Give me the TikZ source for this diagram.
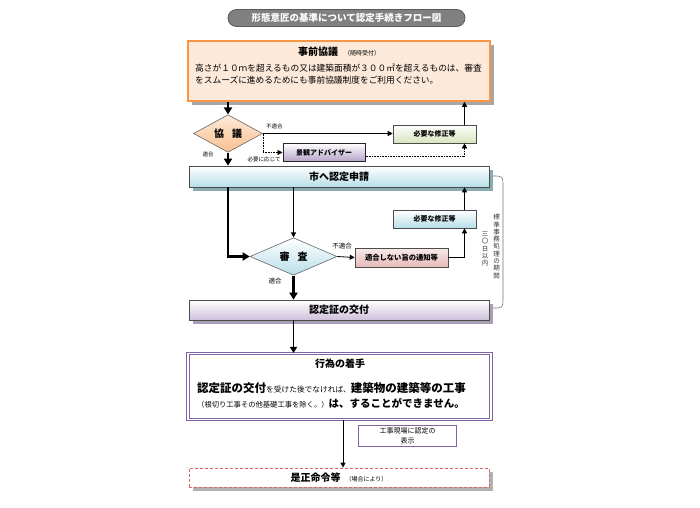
\documentclass[tikz,border=0pt]{standalone}
\usepackage{fontspec}
\setmainfont{Noto Sans CJK JP}
\usetikzlibrary{shapes.geometric,arrows.meta,shadows,calc}
\definecolor{orangeB}{HTML}{F79646}
\definecolor{peach}{HTML}{FDE9D9}
\definecolor{peachD}{HTML}{FAC090}
\definecolor{greenL}{HTML}{D7E4BD}
\definecolor{blueL}{HTML}{B7DEE8}
\definecolor{purpL}{HTML}{CCC0DA}
\definecolor{purpM}{HTML}{B3A2C7}
\definecolor{pinkL}{HTML}{E6B9B8}
\definecolor{purpB}{HTML}{8064A2}
\definecolor{redB}{HTML}{E06666}
\definecolor{shTeal}{HTML}{8AA9B2}
\definecolor{shPurp}{HTML}{A89FB5}
\newcommand\myfs[1]{\fontsize{#1}{#1}\selectfont}
\begin{document}
\begin{tikzpicture}[x=1pt,y=-1pt,
  sbox/.style={draw=black!70, line width=0.6pt, inner sep=0pt, font=\bfseries\myfs{7}},
  wbox/.style={draw=black!70, line width=0.6pt, inner sep=0pt, minimum width=300pt, font=\bfseries\myfs{10}},
  dia/.style={diamond, draw=black!60, line width=0.6pt, inner sep=0pt, font=\bfseries\myfs{10}},
  shad/.style={drop shadow={shadow xshift=4pt, shadow yshift=-4pt, fill=#1, opacity=1}},
  lbl/.style={inner sep=0pt, font=\myfs{5.5}},
  arr/.style={line width=0.8pt, -{Triangle[length=5pt,width=5pt]}},
  darr/.style={line width=0.6pt, densely dotted, -{Triangle[length=5pt,width=5pt]}},
  tarr/.style={line width=2.5pt, -{Triangle[length=7pt,width=8pt]}},
  marr/.style={line width=1.6pt, -{Triangle[length=6pt,width=7pt]}},
  vert/.style={inner sep=0pt, align=center, text width=7pt, font=\fontsize{6.5}{7.3}\selectfont, text=black!80}
]
\useasboundingbox[fill=white] (0,0) rectangle (700,507);

% title
\node[rounded corners=8.5pt, fill=black!50, draw=black!65, line width=0.8pt,
      minimum width=237pt, minimum height=17pt, inner sep=0pt, text=white,
      font=\bfseries\myfs{9.5}] (title) at (346.5,18) {形態意匠の基準について認定手続きフロー図};

% pre-consultation
\node[shad=black!35, draw=orangeB, line width=1.5pt, fill=peach, minimum width=302pt,
      minimum height=60pt, inner sep=0pt] (pre) at (339,71) {};
\node[inner sep=0pt] (preT) at (339,52) {{\bfseries\myfs{10}事前協議}\hspace{6pt}{\myfs{6}（随時受付）}};
\node[anchor=west, inner sep=0pt, align=left, font=\fontsize{8.7}{12}\selectfont] (preB) at (195,74)
  {高さが１０ｍを超えるもの又は建築面積が３００㎡を超えるものは、審査\\をスムーズに進めるためにも事前協議制度をご利用ください。};

% consultation diamond
\node[dia, top color=peach, bottom color=peachD, minimum width=69pt, minimum height=37pt] (kyo) at (228,133.5) {協\hspace{8pt}議};
\node[sbox, top color=white, bottom color=greenL, minimum width=83pt, minimum height=18pt] (fix1) at (434.5,134) {必要な修正等};
\node[sbox, draw=black!85, line width=1pt, top color=white, bottom color=purpM, minimum width=82pt, minimum height=18pt] (kei) at (324,152.5) {景観アドバイザー};

% application
\node[wbox, shad=shTeal, top color=white, bottom color=blueL, minimum height=21pt] (shi) at (339,176.5) {市へ認定申請};

% review
\node[dia, top color=white, bottom color=blueL, minimum width=87pt, minimum height=37pt] (shin) at (293.5,256.5) {審\hspace{8pt}査};
\node[sbox, top color=white!70!pinkL, bottom color=pinkL, minimum width=93pt, minimum height=19pt, font=\bfseries\myfs{7.3}] (tsu) at (401.5,257.5) {適合しない旨の通知等};
\node[sbox, top color=white, bottom color=blueL, minimum width=83pt, minimum height=18pt] (fix2) at (434.5,219) {必要な修正等};

% certificate
\node[wbox, shad=shPurp, top color=white, bottom color=purpL, minimum height=20pt] (nin) at (339,310) {認定証の交付};

% start of act
\node[draw=purpB, double=white, double distance=1.3pt, line width=1.1pt, fill=white,
      minimum width=303pt, minimum height=66pt, inner sep=0pt] (act) at (339.5,386.5) {};
\node[inner sep=0pt, font=\bfseries\myfs{10}] (actT) at (340,364) {行為の着手};
\node[anchor=west, inner sep=0pt, align=left] (actB) at (197,395)
  {{\bfseries\myfs{11.5}認定証の交付}{\myfs{7.7}を受けた後でなければ、}{\bfseries\myfs{11.5}建築物の建築等の工事}\\[3pt]
   {\myfs{7.3}（根切り工事その他基礎工事を除く。）}{\bfseries\myfs{10.5}は、することができません。}};

\node[draw=purpB, line width=1.8pt, fill=white, minimum width=98pt, minimum height=21pt, inner sep=0pt,
      align=center, font=\fontsize{7}{9.5}\selectfont] (gen) at (407.5,436) {工事現場に認定の\\表示};

\node[shad=black!30, draw=redB, dashed, dash pattern=on 3pt off 2pt, line width=0.8pt, fill=white,
      minimum width=300pt, minimum height=19pt, inner sep=0pt] (ze) at (339,477.5)
  {{\bfseries\myfs{10}是正命令等}\hspace{5pt}{\myfs{6}（場合により）}};

% coordinates
\coordinate (cx) at (464.5,0);
\coordinate (cz) at (343,0);

% connectors
\draw[tarr] (kyo.north |- pre.south) -- (kyo.north);
\draw[arr] (cx |- fix1.north) -- (cx |- pre.south);
\draw[arr] (kyo.east) -- (kyo.east -| fix1.west);
\node[lbl, anchor=west] (l1) at (266,126.5) {不適合};
\draw[darr] (kyo.east) |- (kei.west);
\node[lbl] (l2) at (264,159.5) {必要に応じて};
\draw[darr] ($(kei.east)+(0,4)$) -| (cx |- fix1.south);
\draw[tarr] (kyo.south) -- (kyo.south |- shi.north);
\node[lbl] (l3) at (208,154) {適合};

\draw[tarr] (kyo.south |- shi.south) |- (shin.west);
\draw[arr] (shin.north |- shi.south) -- (shin.north);
\draw[arr] (shin.east) -- (tsu.west);
\node[lbl, font=\myfs{6.5}] (l4) at (342,246) {不適合};
\draw[arr] (tsu.east) -| (cx |- fix2.south);
\draw[arr] (cx |- fix2.north) -- (cx |- shi.south);
\draw[tarr] (shin.south) -- (shin.south |- nin.north);
\node[lbl, font=\myfs{6.5}] (l5) at (275,281) {適合};

\draw[marr] (shin.south |- nin.south) -- (shin.south |- act.north);
\draw[arr] (cz |- act.south) -- (cz |- ze.north);

% brace and period
\draw[black!55, line width=0.6pt] (493,176) .. controls (503,176) .. (503,187) -- (503,297) .. controls (503,308) .. (493,308);
\node[vert] (v1) at (496.5,246.5) {標\\準\\事\\務\\処\\理\\の\\期\\間};
\node[vert] (v2) at (485,249) {三\\〇\\日\\以\\内};
\end{tikzpicture}
\end{document}
